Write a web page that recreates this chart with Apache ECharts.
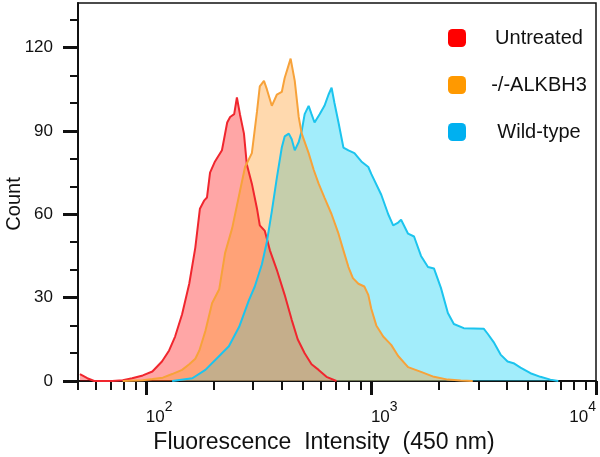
<!DOCTYPE html>
<html>
<head>
<meta charset="utf-8">
<script src="https://cdn.jsdelivr.net/npm/echarts@6/dist/echarts.min.js"></script>
<style>
  html, body { margin: 0; padding: 0; background: #fff; }
  #main { width: 600px; height: 457px; }
</style>
</head>
<body>
<div id="main"></div>
<script>
  // [fluorescence intensity, count]
  var untreated = [
    [51, 2.5], [55, 1], [59, 0], [64, 0], [71, 0], [79, 0.3], [87, 1], [97, 2], [107, 3.4],
    [118, 7], [127, 11], [135, 16], [145, 24], [156, 35], [166, 48], [174, 62], [182, 65],
    [187, 66], [193, 75], [203, 79], [218, 83], [230, 93], [237, 95], [247, 96], [254, 102],
    [262, 96], [273, 89], [281, 78], [296, 71], [312, 62], [321, 56], [338, 54], [356, 47],
    [382, 40], [414, 31], [445, 22], [473, 15], [508, 10], [545, 6], [586, 4], [635, 1.5], [703, 0]
  ];
  var alkbh3 = [
    [79, 0], [97, 0.3], [107, 0.7], [119, 1.2], [131, 2.5], [145, 4], [156, 6], [166, 8],
    [173, 11], [184, 18], [197, 28], [212, 33], [225, 46], [242, 55], [260, 67], [276, 77],
    [296, 82], [312, 97], [321, 106], [335, 108], [345, 105], [363, 99], [382, 103], [402, 104],
    [414, 109], [440, 116], [459, 108], [478, 95], [493, 89], [529, 82], [557, 76], [586, 71],
    [622, 66], [669, 60], [718, 53], [755, 47], [795, 41], [832, 37], [880, 35], [935, 34],
    [974, 31], [1004, 26], [1057, 20], [1134, 16], [1231, 13], [1322, 9], [1463, 5], [1670, 3.3],
    [1906, 1.5], [2198, 0.5], [2509, 0.2], [2835, 0]
  ];
  var wildType = [
    [131, 0], [161, 1], [184, 4], [212, 9], [234, 12.5], [260, 19.5], [287, 29], [305, 34],
    [328, 42], [345, 50], [363, 61], [382, 73], [402, 84], [414, 88], [432, 89], [445, 87],
    [459, 83], [478, 86], [493, 90], [508, 96], [529, 99], [545, 96], [562, 93], [592, 96],
    [622, 99], [648, 103], [669, 105.5], [689, 100], [718, 93], [755, 84], [795, 83], [845, 82],
    [907, 79], [974, 77], [1004, 74.5], [1112, 67], [1194, 60], [1256, 56], [1322, 57], [1362, 58],
    [1463, 53], [1555, 52], [1670, 45], [1793, 41], [1906, 40.5], [2047, 33.5], [2198, 24.5],
    [2336, 20.5], [2586, 19], [3170, 18.8], [3302, 17], [3510, 14], [3769, 9.5], [4048, 7],
    [4302, 6.4], [4620, 4.8], [5116, 2.8], [5663, 1.5], [6270, 0.5], [6800, 0]
  ];

  var legendNames = ['Untreated', '-/-ALKBH3', 'Wild-type'];
  var xMajorTicks = [100, 1000, 10000];
  var xMinorTicks = [50, 60, 70, 80, 90, 200, 300, 400, 500, 600, 700, 800, 900,
    2000, 3000, 4000, 5000, 6000, 7000, 8000, 9000];
  var yMajorTicks = [0, 30, 60, 90, 120];
  var yMinorTicks = [10, 20, 40, 50, 70, 80, 100, 110, 130];

  var font = '"Liberation Sans", Arial, sans-serif';
  var myChart = echarts.init(document.getElementById('main'));

  myChart.setOption({
    animation: false,
    grid: {
      left: 78, right: 4, top: 3, bottom: 76,
      outerBoundsMode: 'none',
      containLabel: false,
      show: true,
      borderColor: '#111',
      borderWidth: 1.5
    },
    legend: {
      orient: 'vertical',
      left: 443,
      top: 23,
      itemWidth: 18,
      itemHeight: 18,
      itemGap: 27,
      icon: 'roundRect',
      itemStyle: { borderWidth: 0 },
      data: legendNames,
      formatter: function (name) {
        return '{n|' + name + '}';
      },
      textStyle: {
        rich: {
          n: { width: 136, align: 'center', fontSize: 20, lineHeight: 18, color: '#111', fontFamily: font }
        }
      }
    },
    xAxis: [{
      type: 'log',
      min: 50,
      max: 10000,
      name: 'Fluorescence  Intensity  (450 nm)',
      nameLocation: 'middle',
      nameGap: 50,
      nameMoveOverlap: false,
      nameTextStyle: { fontSize: 23, color: '#111', fontFamily: font, padding: [0, 26, 0, 0] },
      axisLine: { show: true, lineStyle: { color: '#111', width: 2 } },
      axisTick: { show: true, length: 14, lineStyle: { color: '#111', width: 3 }, customValues: xMajorTicks },
      axisLabel: {
        customValues: xMajorTicks,
        margin: 19,
        align: 'left',
        alignMaxLabel: 'right',
        formatter: function (v) {
          return '{b|10}{s|' + Math.round(Math.log10(v)) + '}';
        },
        rich: {
          b: { fontSize: 17, lineHeight: 26, verticalAlign: 'bottom', color: '#111', fontFamily: font },
          s: { fontSize: 14, lineHeight: 18, verticalAlign: 'top', color: '#111', fontFamily: font }
        }
      },
      splitLine: { show: false }
    }, {
      type: 'log',
      min: 50,
      max: 10000,
      position: 'bottom',
      axisLine: { show: false },
      axisTick: { show: true, length: 9, lineStyle: { color: '#111', width: 2 }, customValues: xMinorTicks },
      axisLabel: { show: false },
      splitLine: { show: false }
    }],
    yAxis: [{
      type: 'value',
      min: 0,
      max: 136,
      name: 'Count',
      nameLocation: 'middle',
      nameGap: 54,
      nameMoveOverlap: false,
      nameTextStyle: { fontSize: 20, color: '#111', fontFamily: font, padding: [0, 24, 0, 0] },
      axisLine: { show: true, lineStyle: { color: '#111', width: 2 } },
      axisTick: { show: true, length: 15, lineStyle: { color: '#111', width: 3 }, customValues: yMajorTicks },
      axisLabel: { customValues: yMajorTicks, margin: 25, fontSize: 17, color: '#111', fontFamily: font },
      splitLine: { show: false }
    }, {
      type: 'value',
      min: 0,
      max: 136,
      position: 'left',
      axisLine: { show: false },
      axisTick: { show: true, length: 8, lineStyle: { color: '#111', width: 2 }, customValues: yMinorTicks },
      axisLabel: { show: false },
      splitLine: { show: false }
    }],
    series: [{
      name: 'Untreated',
      type: 'line',
      data: untreated,
      symbol: 'none',
      itemStyle: { color: '#ff0000' },
      lineStyle: { color: '#f0262e', width: 2 },
      areaStyle: { color: 'rgba(255, 0, 0, 0.35)', opacity: 1 }
    }, {
      name: 'Wild-type',
      type: 'line',
      data: wildType,
      symbol: 'none',
      itemStyle: { color: '#00b0f0' },
      lineStyle: { color: '#1cc4ee', width: 2 },
      areaStyle: { color: 'rgba(34, 211, 245, 0.42)', opacity: 1 }
    }, {
      name: '-/-ALKBH3',
      type: 'line',
      data: alkbh3,
      symbol: 'none',
      itemStyle: { color: '#ff9900' },
      lineStyle: { color: '#f7a23a', width: 2 },
      areaStyle: { color: 'rgba(255, 154, 42, 0.38)', opacity: 1 }
    }]
  });
</script>
</body>
</html>
